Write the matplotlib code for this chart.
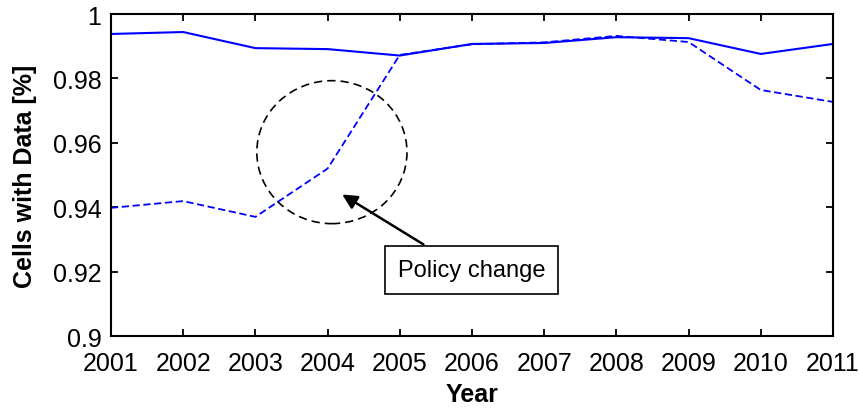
import numpy as np
import matplotlib.pyplot as plt
from matplotlib.patches import Ellipse
from matplotlib.ticker import FormatStrFormatter

plt.rcParams['font.family'] = ['Liberation Sans', 'DejaVu Sans']

years = np.arange(2001, 2012)
solid = [0.9938, 0.9944, 0.9894, 0.9891, 0.9871, 0.9907, 0.9910, 0.9928, 0.9925, 0.9876, 0.9907]
dashed = [0.9398, 0.9419, 0.9370, 0.9520, 0.9873, 0.9906, 0.9912, 0.9932, 0.9913, 0.9764, 0.9727]
note = "Policy change"

fig = plt.figure(figsize=(8.59, 4.10), dpi=100)
ax = fig.add_axes([0.1292, 0.178, 0.8405, 0.7854])

ax.plot(years, solid, color='blue', lw=1.5)
ax.plot(years, dashed, color='blue', lw=1.3, ls=(0, (4, 2)))

ax.set_xlim(2001, 2011)
ax.set_ylim(0.9, 1.0)
ax.set_xticks(years)
ax.set_yticks(np.arange(0.9, 1.001, 0.02))
ax.yaxis.set_major_formatter(FormatStrFormatter('%g'))
ax.tick_params(direction='in', top=True, right=True, length=5, width=1.3,
               labelsize=18)
ax.tick_params(axis='x', pad=11)
ax.tick_params(axis='y', pad=7)
for s in ax.spines.values():
    s.set_linewidth(1.5)

ax.set_xlabel("Year", fontsize=18, fontweight='bold', labelpad=5)
ax.set_ylabel("Cells with Data [%]", fontsize=18, fontweight='bold', labelpad=11)

# dashed circle around the jump
ax.add_patch(Ellipse((2004.06, 0.9571), 2.08, 0.0444, fill=False,
                     ec='black', lw=1.2, ls=(0, (5, 3))))

ax.annotate('', xy=(2004.17, 0.9444), xytext=(2005.36, 0.9280),
            arrowprops=dict(arrowstyle='-|>', mutation_scale=22, lw=1.8, color='black'))
ax.text(2005.99, 0.9205, note, fontsize=17, ha='center', va='center',
        bbox=dict(boxstyle='square,pad=0.55', fc='white', ec='black', lw=1.2))

fig.savefig('out.png', dpi=100)
